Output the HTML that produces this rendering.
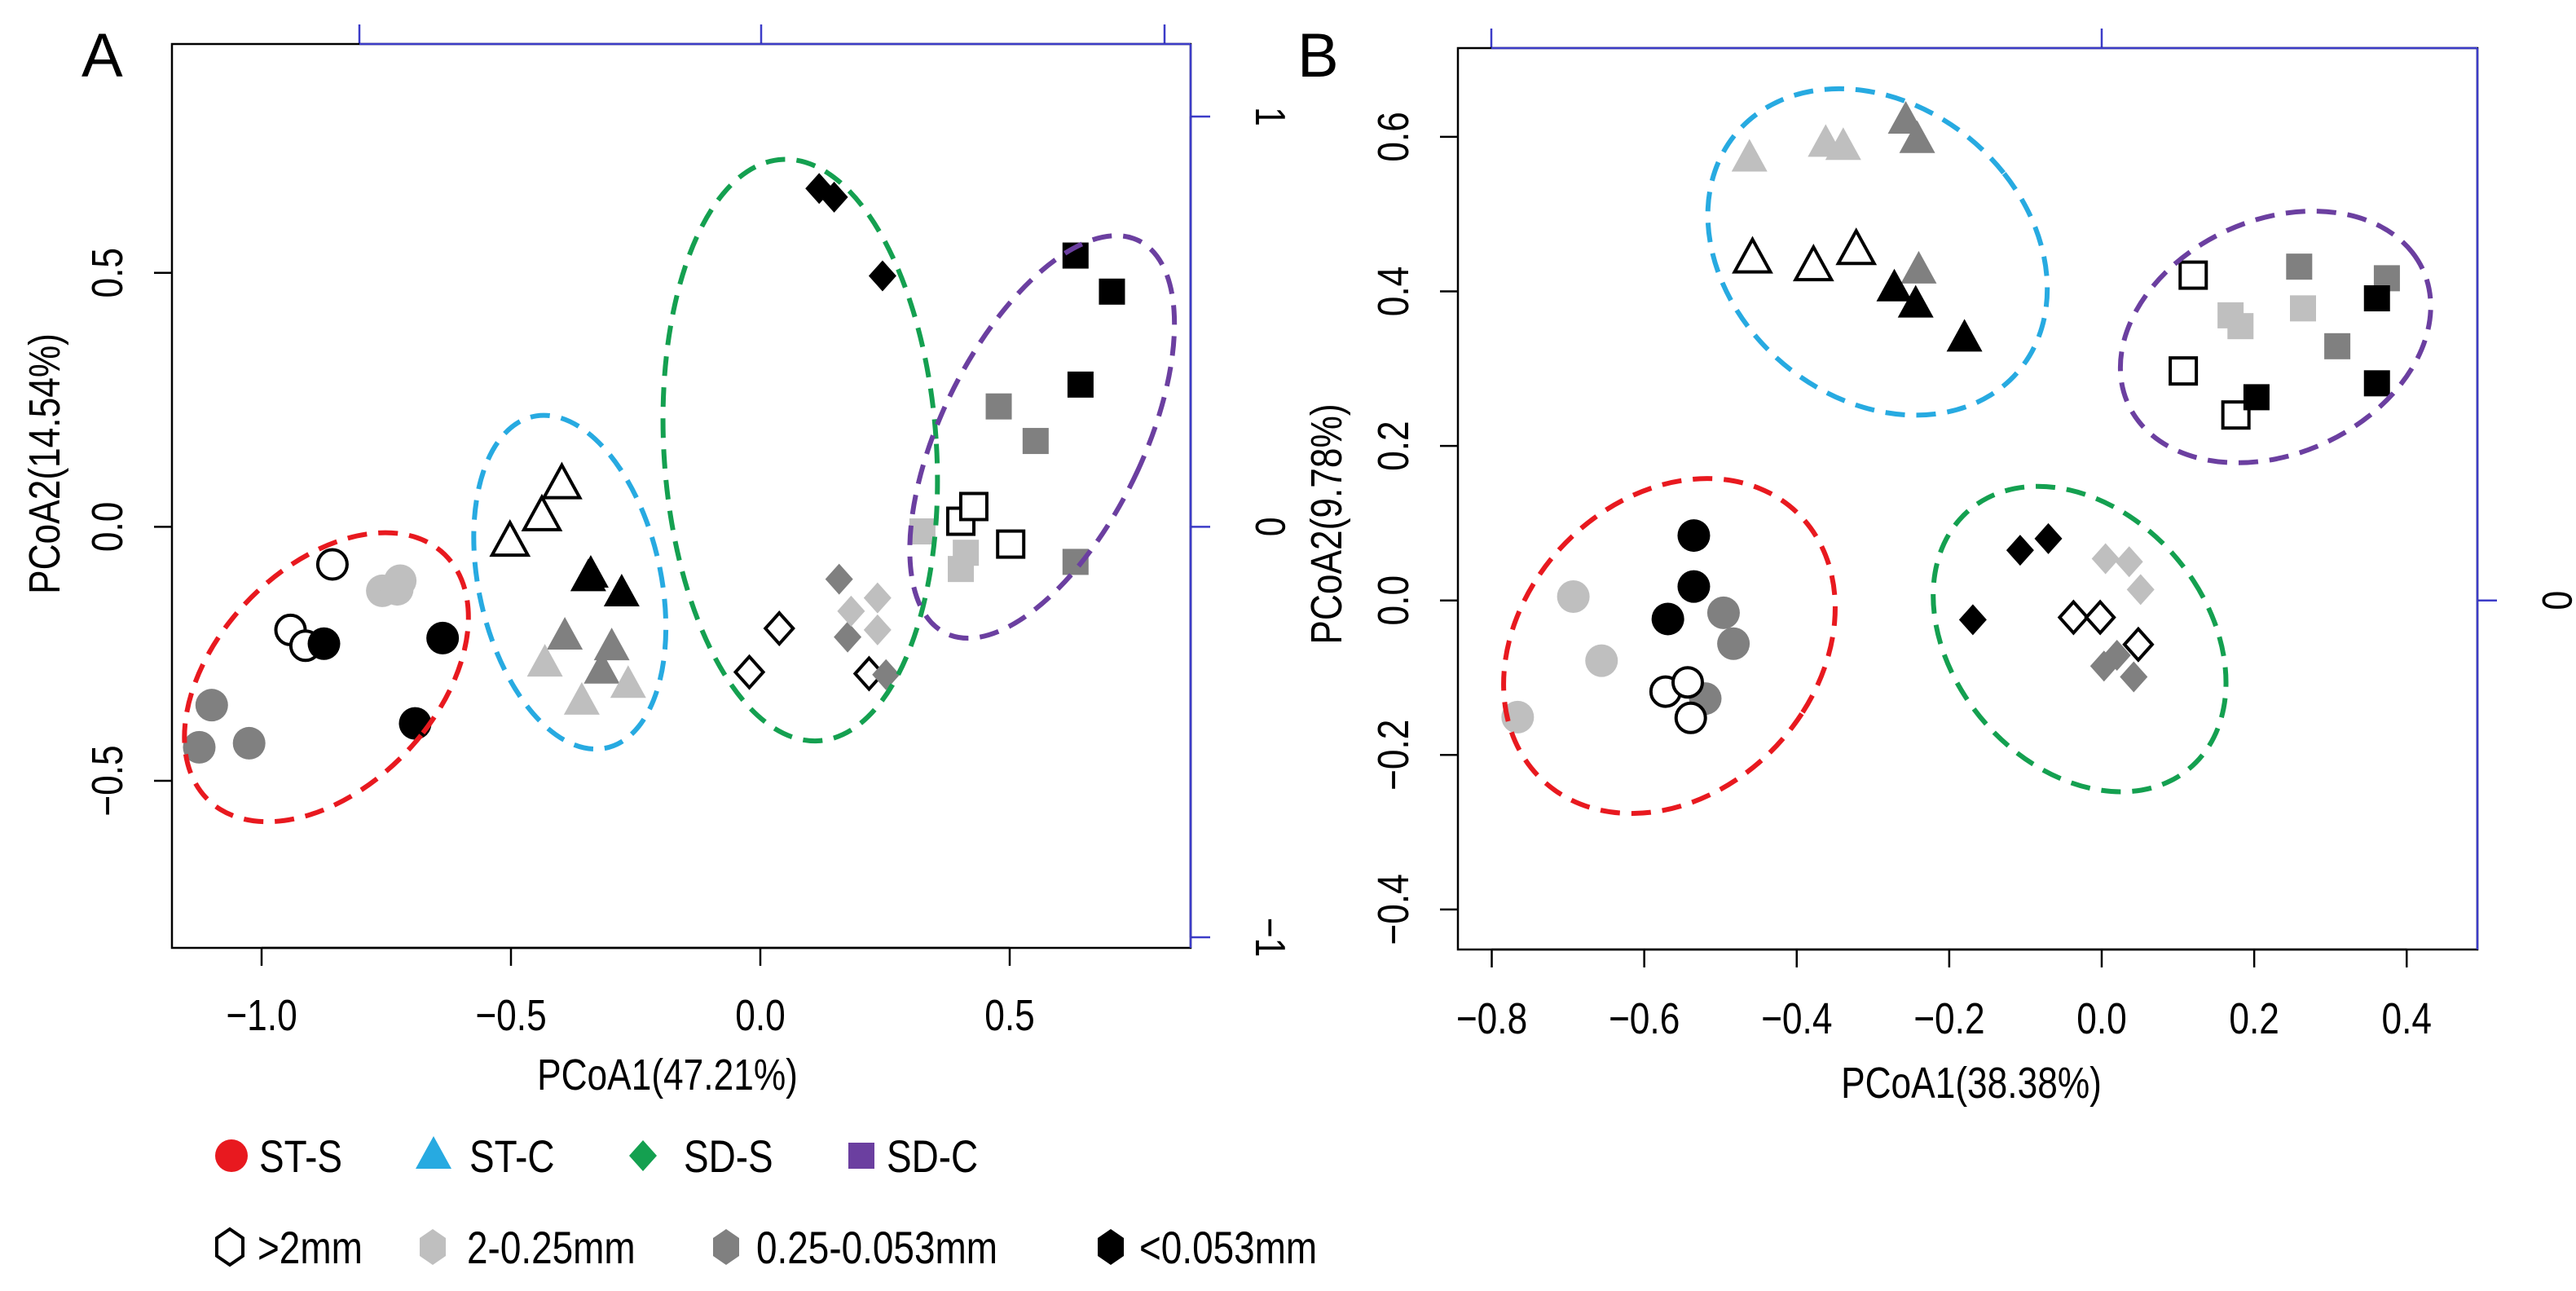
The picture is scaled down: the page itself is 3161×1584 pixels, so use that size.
<!DOCTYPE html>
<html><head><meta charset="utf-8"><style>
html,body{margin:0;padding:0;background:#fff;}
svg{display:block;}
text{font-family:"Liberation Sans",sans-serif;fill:#000;}
</style></head><body>
<svg id="fig" width="3161" height="1584" viewBox="0 0 3161 1584" xmlns="http://www.w3.org/2000/svg"></svg>
<script>
// ---------- data: panel A ----------
const aX = [-0.858,-0.942,-0.912,-0.758,-0.722,-0.728,-0.875,-0.637,-0.692,-1.10,-1.125,-1.025,
  -0.502,-0.438,-0.398,-0.345,-0.34,-0.278,-0.392,-0.298,-0.318,-0.432,-0.358,-0.265,
  0.118,0.148,0.245,-0.022,0.038,0.218,0.158,0.175,0.252,0.182,0.235,0.235,
  0.632,0.705,0.642,0.478,0.552,0.632,0.402,0.428,0.502,0.325,0.412,0.402];
const aY = [-0.074,-0.203,-0.234,-0.126,-0.106,-0.123,-0.230,-0.219,-0.387,-0.351,-0.434,-0.426,
  -0.030,0.020,0.083,-0.101,-0.094,-0.131,-0.216,-0.237,-0.283,-0.269,-0.344,-0.311,
  0.666,0.649,0.494,-0.286,-0.200,-0.289,-0.103,-0.217,-0.291,-0.166,-0.140,-0.203,
  0.534,0.463,0.280,0.237,0.169,-0.069,0.011,0.040,-0.034,-0.009,-0.051,-0.083];
const aGroup = [0,0,0,0,0,0,0,0,0,0,0,0, 1,1,1,1,1,1,1,1,1,1,1,1, 2,2,2,2,2,2,2,2,2,2,2,2, 3,3,3,3,3,3,3,3,3,3,3,3];
const aSize  = [0,0,0,1,1,1,3,3,3,2,2,2, 0,0,0,3,3,3,2,2,2,1,1,1, 3,3,3,0,0,0,2,2,2,1,1,1, 3,3,3,2,2,2,0,0,0,1,1,1];
const aXTicks = [-1.0,-0.5,0.0,0.5];
const aXTickLabels = ["\u22121.0","\u22120.5","0.0","0.5"];
const aYTicks = [-0.5,0.0,0.5];
const aYTickLabels = ["\u22120.5","0.0","0.5"];
const aEllCx = [-0.87,-0.382,0.08,0.565];
const aEllCy = [-0.296,-0.109,0.151,0.177];
// ---------- data: panel B ----------
const bX = [-0.535,-0.535,-0.569,-0.693,-0.656,-0.766,-0.496,-0.483,-0.520,-0.572,-0.543,-0.539,
  -0.462,-0.362,-0.339,-0.257,-0.242,-0.240,-0.458,-0.378,-0.322,-0.272,-0.244,-0.180,
  -0.107,-0.070,-0.169,0.005,0.036,0.051,-0.037,-0.002,0.048,0.003,0.020,0.042,
  0.120,0.107,0.176,0.169,0.182,0.264,0.259,0.309,0.374,0.361,0.361,0.203];
const bY = [0.084,0.018,-0.024,0.005,-0.078,-0.151,-0.016,-0.056,-0.127,-0.118,-0.106,-0.152,
  0.572,0.591,0.587,0.621,0.596,0.427,0.442,0.432,0.453,0.404,0.383,0.339,
  0.065,0.080,-0.025,0.054,0.050,0.014,-0.022,-0.022,-0.057,-0.085,-0.071,-0.099,
  0.421,0.297,0.240,0.369,0.355,0.378,0.432,0.329,0.417,0.391,0.281,0.263];
const bGroup = aGroup.slice();
const bSize  = [3,3,3,1,1,1,2,2,2,0,0,0, 1,1,1,2,2,2,0,0,0,3,3,3, 3,3,3,1,1,1,0,0,0,2,2,2, 0,0,0,1,1,1,2,2,2,3,3,3];
const bXTicks = [-0.8,-0.6,-0.4,-0.2,0.0,0.2,0.4];
const bXTickLabels = ["\u22120.8","\u22120.6","\u22120.4","\u22120.2","0.0","0.2","0.4"];
const bYTicks = [-0.4,-0.2,0.0,0.2,0.4,0.6];
const bYTickLabels = ["\u22120.4","\u22120.2","0.0","0.2","0.4","0.6"];
const bEllCx = [-0.567,-0.294,-0.029,0.228];
const bEllCy = [-0.059,0.451,-0.05,0.341];
// ---------- legend ----------
const groupNames = ["ST-S","ST-C","SD-S","SD-C"];
const sizeNames = [">2mm","2-0.25mm","0.25-0.053mm","<0.053mm"];

const NS = "http://www.w3.org/2000/svg";
const svg = document.getElementById('fig');
const groupColors = ["#e8191f","#27aae1","#14a050","#6b3fa0"];
const sizeColors = ["#ffffff","#bfbfbf","#808080","#000000"];
const BLUE = "#3c3cc8";

function el(tag, attrs, parent){
  const e = document.createElementNS(NS, tag);
  for (const k in attrs) e.setAttribute(k, attrs[k]);
  (parent||svg).appendChild(e);
  return e;
}
function txt(x,y,s,size,anchor,rot,parent,name){
  const t = el('text',{x:0,y:0,'font-size':size,'text-anchor':anchor,
    transform:`translate(${x},${y}) rotate(${rot||0}) scale(0.82,1)`},parent);
  t.textContent = s;
  
  
  return t;
}
function marker(shape, px, py, fill, parent){
  const open = fill === "#ffffff";
  const st = open ? {stroke:"#000","stroke-width":4,fill:"#fff"} : {stroke:"none",fill:fill};
  let m;
  if (shape===0) m = el('circle',Object.assign({cx:px,cy:py,r:open?18:20},st),parent);
  else if (shape===1) m = el('polygon',Object.assign({points:`${px},${py-24} ${px+22},${py+16} ${px-22},${py+16}`},st),parent);
  else if (shape===2) m = el('polygon',Object.assign({points:`${px},${py-19} ${px+17},${py} ${px},${py+19} ${px-17},${py}`},st),parent);
  else m = el('rect',Object.assign({x:px-16,y:py-16,width:32,height:32},st),parent);
  return m;
}

function panel(cfg){
  const g = el('g',{});
  
  
  const sx = v => cfg.x0 + v*cfg.kx;
  const sy = v => cfg.y0 - v*cfg.ky;
  const B = cfg.box;
  const ba = el('g',{stroke:BLUE,'stroke-width':2.5,fill:'none'},g);
  
  
  cfg.topTicks.forEach(t=>el('line',{x1:t,y1:B.t,x2:t,y2:B.t-24},ba));
  el('line',{x1:B.r,y1:cfg.rightTicks[0],x2:B.r,y2:cfg.rightTicks[cfg.rightTicks.length-1]},ba);
  cfg.rightTicks.forEach(t=>el('line',{x1:B.r,y1:t,x2:B.r+24,y2:t},ba));
  cfg.rightLabels.forEach((s,i)=>txt(B.r+80,cfg.rightTicks[i],s,52,'middle',90,g,'right-tick-label'));
  const fr = el('rect',{x:B.l,y:B.t,width:B.r-B.l,height:B.b-B.t,fill:'none',stroke:'#000','stroke-width':2.5},g);
  
  
  el('line',{x1:cfg.topTicks[0],y1:B.t,x2:B.r,y2:B.t,stroke:BLUE,'stroke-width':2.5},g);
  el('line',{x1:B.r,y1:B.t,x2:B.r,y2:B.b,stroke:BLUE,'stroke-width':2.5},g);
  cfg.xTicks.forEach((v,i)=>{
    el('line',{x1:sx(v),y1:B.b,x2:sx(v),y2:B.b+22,stroke:'#000','stroke-width':2.5},g);
    txt(sx(v),cfg.xTickY,cfg.xTickLabels[i],54,'middle',0,g,'x-tick-label');
  });
  el('line',{x1:sx(cfg.xTicks[0]),y1:B.b,x2:sx(cfg.xTicks[cfg.xTicks.length-1]),y2:B.b,stroke:'#000','stroke-width':2.5},g);
  cfg.yTicks.forEach((v,i)=>{
    el('line',{x1:B.l,y1:sy(v),x2:B.l-22,y2:sy(v),stroke:'#000','stroke-width':2.5},g);
    txt(cfg.yTickX,sy(v),cfg.yTickLabels[i],54,'middle',-90,g,'y-tick-label');
  });
  txt(cfg.xLabelX,cfg.xLabelY,cfg.xLabel,54,'middle',0,g,'x-axis-title');
  txt(cfg.yLabelX,cfg.yLabelY,cfg.yLabel,54,'middle',-90,g,'y-axis-title');
  const pl = txt(cfg.letterX,cfg.letterY,cfg.letter,76,'start',0,g,'panel-label');
  pl.setAttribute('transform',`translate(${cfg.letterX},${cfg.letterY})`);
  const pg = el('g',{},g);
  
  
  cfg.X.forEach((v,i)=>{
    const m = marker(cfg.G[i], sx(v), sy(cfg.Y[i]), sizeColors[cfg.S[i]], pg);
    
    
  });
  cfg.ell.forEach((e,i)=>{
    const eg = el('g',{transform:`translate(${sx(cfg.ecx[i])},${sy(cfg.ecy[i])}) scale(${cfg.fx},${cfg.fy}) rotate(${e[2]})`},g);
    const E = el('ellipse',{cx:0,cy:0,rx:e[0],ry:e[1],'vector-effect':'non-scaling-stroke',
      fill:'none',stroke:groupColors[i],'stroke-width':6,'stroke-dasharray':'24 14'},eg);
    
    
  });
}

panel({name:'panel-a',letter:'A',letterX:100,letterY:94,
  box:{l:211,r:1461,t:54,b:1163},x0:933,kx:612,y0:646.4,ky:623.3,
  topTicks:[441,934,1429],rightTicks:[143,646.4,1150],rightLabels:["1","0","\u22121"],
  xTicks:aXTicks,xTickLabels:aXTickLabels,yTicks:aYTicks,yTickLabels:aYTickLabels,
  xTickY:1264,yTickX:150,xLabel:"PCoA1(47.21%)",xLabelX:819,xLabelY:1337,
  yLabel:"PCoA2(14.54%)",yLabelX:73,yLabelY:569,
  X:aX,Y:aY,G:aGroup,S:aSize,ecx:aEllCx,ecy:aEllCy,fx:1.02,fy:0.893,
  ell:[[139,222,35],[110,232,-10],[164,400,-3],[124,294,22]]});

panel({name:'panel-b',letter:'B',letterX:1592,letterY:94,
  box:{l:1789,r:3040,t:59,b:1165},x0:2579,kx:935.6,y0:736.7,ky:948,
  topTicks:[1830,2579],rightTicks:[736.7],rightLabels:["0"],
  xTicks:bXTicks,xTickLabels:bXTickLabels,yTicks:bYTicks,yTickLabels:bYTickLabels,
  xTickY:1268,yTickX:1728,xLabel:"PCoA1(38.38%)",xLabelX:2419,xLabelY:1347,
  yLabel:"PCoA2(9.78%)",yLabelX:1646,yLabelY:643,
  X:bX,Y:bY,G:bGroup,S:bSize,ecx:bEllCx,ecy:bEllCy,fx:1.0083,fy:0.893,
  ell:[[186,243,30],[188,240,-35],[160,224,-30],[203,156,-35]]});

const lg = el('g',{});


const gMx=[284,532,789,1057], gTx=[318,576,839,1088];
groupNames.forEach((n,i)=>{
  const m = marker(i,gMx[i],1418,groupColors[i],lg);
  
  
  txt(gTx[i],1438,n,56,'start',0,lg,'legend-entry');
});
const sMx=[282,531,891,1363], sTx=[316,573,928,1398];
sizeNames.forEach((n,i)=>{
  const x=sMx[i], y=1530, w=16, h=22;
  const open = i===0;
  const hx = el('polygon',{points:`${x-w},${y-h/2} ${x},${y-h} ${x+w},${y-h/2} ${x+w},${y+h/2} ${x},${y+h} ${x-w},${y+h/2}`,
    fill:sizeColors[i],stroke:open?'#000':'none','stroke-width':4},lg);
  
  
  txt(sTx[i],1550,n,56,'start',0,lg,'legend-entry');
});
</script>
</body></html>
